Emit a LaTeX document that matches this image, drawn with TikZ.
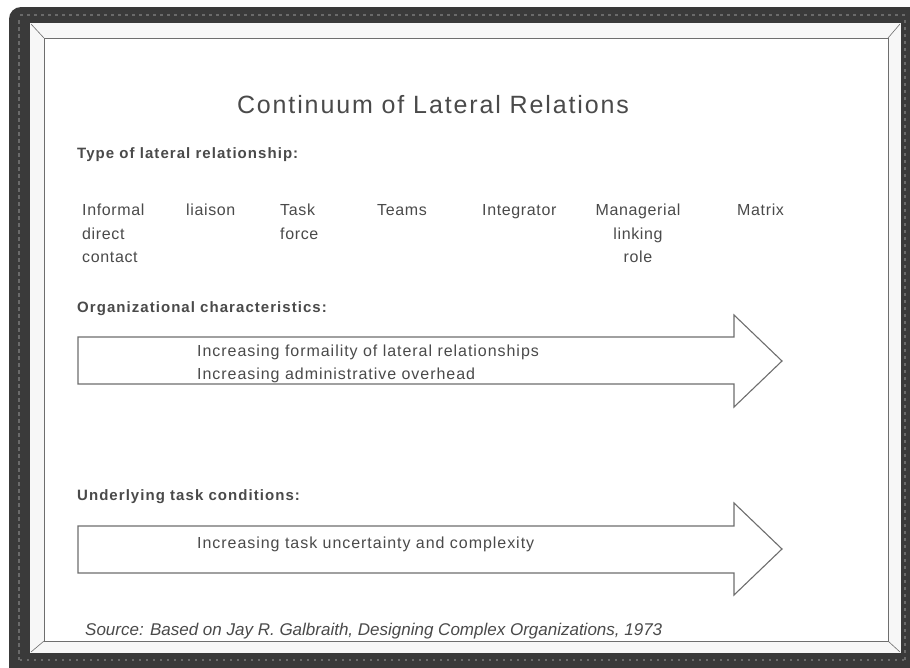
\documentclass[tikz,border=0pt]{standalone}
\usepackage{fontspec}
\setmainfont{Liberation Sans}
\definecolor{ink}{HTML}{4A4A4A}
\definecolor{framedark}{HTML}{3A3A3A}
\definecolor{frametex}{HTML}{6A6A6A}
\definecolor{mat}{HTML}{F7F7F7}
\definecolor{rulegray}{HTML}{6E6E6E}
\newcommand{\titlefont}{\fontsize{25}{30}\selectfont\addfontfeatures{LetterSpace=7.5}}
\newcommand{\headfont}{\fontsize{15}{18}\selectfont\bfseries\addfontfeatures{LetterSpace=7}}
\newcommand{\itemfont}{\fontsize{16}{23.5}\selectfont\addfontfeatures{LetterSpace=4}}
\newcommand{\arrowfont}{\fontsize{16}{23}\selectfont\addfontfeatures{LetterSpace=6}}
\newcommand{\srcfont}{\fontsize{17}{20}\selectfont\itshape}
\begin{document}
\begin{tikzpicture}[x=1pt,y=-1pt,
  lbl/.style={inner sep=0pt,text=ink,anchor=base west},
  itemlbl/.style={inner sep=0pt,text=ink,anchor=north west,align=left,font=\itemfont},
  bigarrow/.style={draw=rulegray,line width=1.1pt,line join=miter,fill=white},
  thinrule/.style={draw=rulegray,line width=0.9pt}]
\useasboundingbox (0,0) rectangle (910,667);
% frame
\fill[white] (0,0) rectangle (910,667);
\fill[framedark,even odd rule,rounded corners=12pt] (9,7) rectangle (922,680)
  [sharp corners] (30,23) rectangle (901,653);
\draw[frametex,line width=2pt,dash pattern=on 3pt off 4pt] (20,15) -- (905,15);
\draw[frametex,line width=2pt,dash pattern=on 4pt off 3pt] (19,20) -- (19,660);
\draw[frametex,line width=2pt,dash pattern=on 2pt off 5pt] (20,660) -- (905,660);
\draw[frametex,line width=2pt,dash pattern=on 3pt off 4pt] (905,20) -- (905,660);
\fill[mat] (30,23) rectangle (901,653);
\fill[white] (44,38) rectangle (888,641);
\draw[thinrule] (44,38) rectangle (888,641);
\draw[thinrule,line width=0.6pt] (31,24) -- (44,38) (900,24) -- (888,38)
  (31,652) -- (44,641) (900,652) -- (888,641);
% title
\node[inner sep=0pt,text=ink,anchor=base,font=\titlefont] (title) at (433,113) {Continuum of Lateral Relations};
% headings
\node[lbl,font=\headfont] (typehead) at (77,158) {Type of lateral relationship:};
\node[lbl,font=\headfont] (orghead) at (77,312) {Organizational characteristics:};
\node[lbl,font=\headfont] (taskhead) at (77,500) {Underlying task conditions:};
% items
\node[itemlbl] (informal) at (82,204) {Informal\\direct\\contact};
\node[itemlbl] (liaison) at (186,204) {liaison};
\node[itemlbl] (taskforce) at (280,204) {Task\\force};
\node[itemlbl] (teams) at (377,204) {Teams};
\node[itemlbl] (integrator) at (482,204) {Integrator};
\node[inner sep=0pt,text=ink,anchor=north,align=center,font=\itemfont] (managerial) at (638,204) {Managerial\\linking\\role};
\node[itemlbl] (matrix) at (737,204) {Matrix};
% arrows
\draw[bigarrow] (78,337) -- (734,337) -- (734,315) -- (782,361) -- (734,407) -- (734,384) -- (78,384) -- cycle;
\draw[bigarrow] (78,526) -- (734,526) -- (734,503) -- (782,549) -- (734,595) -- (734,573) -- (78,573) -- cycle;
\node[inner sep=0pt,text=ink,anchor=north west,align=left,font=\arrowfont] (orgtext) at (197,345) {Increasing formaility of lateral relationships\\Increasing administrative overhead};
\node[lbl,font=\arrowfont] (tasktext) at (197,548) {Increasing task uncertainty and complexity};
% source
\node[lbl,font=\srcfont] (source) at (85,635) {Source: Based on Jay R. Galbraith, Designing Complex Organizations, 1973};
\end{tikzpicture}
\end{document}
